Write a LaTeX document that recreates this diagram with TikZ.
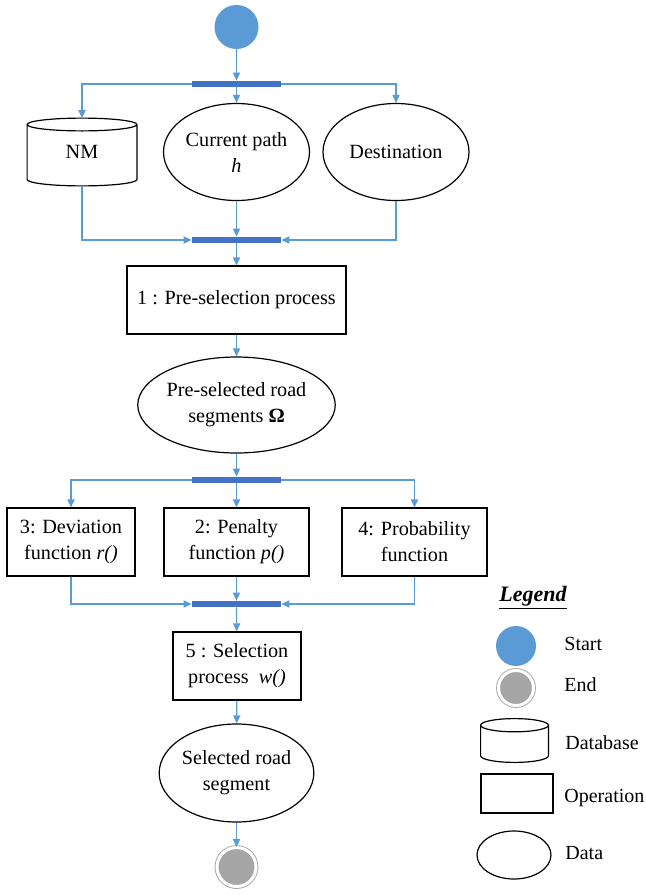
\documentclass[tikz,border=0pt]{standalone}
\usepackage{fontspec}
\setmainfont{Liberation Serif}
\usetikzlibrary{shapes.geometric,arrows.meta,calc}
\definecolor{lineblue}{RGB}{91,155,213}
\definecolor{barblue}{RGB}{68,114,196}
\definecolor{endgray}{RGB}{166,166,166}
\newcommand{\drawdb}[2]{%
  \draw[line width=0.6pt] let \p1=(#1.west), \p2=(#1.east), \n1={(\x2-\x1)/2} in
    ([yshift=-#2]#1.north) ellipse[x radius={\n1*1pt}, y radius=#2]
    ([yshift=-#2]#1.north west) -- ([yshift=#2]#1.south west)
    arc[start angle=180, end angle=360, x radius={\n1*1pt}, y radius=#2]
    -- ([yshift=-#2]#1.north east);}

\begin{document}
\begin{tikzpicture}[x=0.5pt, y=-0.5pt, font=\fontsize{10.1}{13}\selectfont,
    flow/.style={draw=lineblue, line width=0.6pt, -{Triangle[length=4pt, width=3.6pt]}},
    bar/.style={fill=barblue, rectangle, minimum width=44.5pt, minimum height=3pt, inner sep=0pt},
    opbox/.style={draw, rectangle, line width=0.6pt, align=center, inner sep=0pt},
    databox/.style={draw, ellipse, line width=0.6pt, align=center, inner sep=0pt},
    dbbox/.style={rectangle, align=center, inner sep=0pt},
    startdot/.style={circle, fill=lineblue, inner sep=0pt},
    enddot/.style={circle, fill=endgray, draw=endgray, double=white, double distance=1.5pt, line width=0.45pt, inner sep=0pt},
    legtext/.style={anchor=west, inner sep=0pt, font=\fontsize{10}{12}\selectfont}]
    \useasboundingbox (0,0) rectangle (646,895);

    \node (start) at (236.5,27) [startdot, minimum size=22pt] {};
    \node (bar1) at (236.5,84) [bar] {};
    \node (NM) at (82,152) [dbbox, minimum width=54.5pt, minimum height=33.5pt] {NM};
    \drawdb{NM}{3.2pt}
    \node (path) at (236.5,152) [databox, minimum width=73pt, minimum height=48.5pt] {Current path\\\textit{h}};
    \node (dest) at (396,152) [databox, minimum width=73pt, minimum height=48.5pt] {Destination};
    \node (bar2) at (236.5,240) [bar] {};
    \node (presel) at (236.5,300) [opbox, minimum width=109.5pt, minimum height=34pt] {1 : Pre-selection process};
    \node (omega) at (236.5,405) [databox, minimum width=87.5pt, minimum height=48pt] {Pre-selected road\\segments \textbf{Ω}};
    \node (bar3) at (236.5,480) [bar] {};
    \node (dev) at (71,542) [opbox, minimum width=64pt, minimum height=34pt] {3: Deviation\\function \textit{r()}};
    \node (pen) at (236.5,542) [opbox, minimum width=72.5pt, minimum height=34pt] {2: Penalty\\function \textit{p()}};
    \node (prob) at (414.5,542) [opbox, minimum width=72.5pt, minimum height=34pt] {4: Probability\\function};
    \node (bar4) at (236.5,604) [bar] {};
    \node (sel) at (237,666) [opbox, minimum width=64pt, minimum height=34pt] {5 : Selection\\process~~\textit{w()}};
    \node (road) at (236.5,773) [databox, minimum width=73pt, minimum height=49pt] {Selected road\\segment};
    \node (end) at (236.5,867) [enddot, minimum size=19.5pt] {};

    \draw[flow] (start) -- (bar1);
    \draw[flow] (bar1.west) -| (NM.north);
    \draw[flow] (bar1) -- (path);
    \draw[flow] (bar1.east) -| (dest.north);
    \draw[flow] (NM.south) |- (bar2.west);
    \draw[flow] (path) -- (bar2);
    \draw[flow] (dest.south) |- (bar2.east);
    \draw[flow] (bar2) -- (presel);
    \draw[flow] (presel) -- (omega);
    \draw[flow] (omega) -- (bar3);
    \draw[flow] (bar3.west) -| (dev.north);
    \draw[flow] (bar3) -- (pen);
    \draw[flow] (bar3.east) -| (prob.north);
    \draw[flow] (dev.south) |- (bar4.west);
    \draw[flow] (pen) -- (bar4);
    \draw[flow] (prob.south) |- (bar4.east);
    \draw[flow] (bar4) -- (sel);
    \draw[flow] (sel) -- (road);
    \draw[flow] (road) -- (end);

    \node (legend) at (533,598) {\fontsize{11}{13}\selectfont\textbf{\textit{\underline{Legend}}}};
    \node (lstart) at (516,646) [startdot, minimum size=20pt] {};
    \node (lend) at (516,688) [enddot, minimum size=17.5pt] {};
    \node (ldb) at (514.5,740.5) [dbbox, minimum width=33.5pt, minimum height=21.5pt] {};
    \drawdb{ldb}{3.3pt}
    \node (lop) at (517,793.5) [opbox, minimum width=36pt, minimum height=19.5pt] {};
    \node (ldata) at (514,855) [databox, minimum width=37pt, minimum height=24pt] {};
    \node (tstart) at (564,644) [legtext] {Start};
    \node (tend) at (564,685) [legtext] {End};
    \node (tdb) at (565,743) [legtext] {Database};
    \node (top) at (564,798) [legtext] {Operation};
    \node (tdata) at (565,853) [legtext] {Data};
\end{tikzpicture}
\end{document}
